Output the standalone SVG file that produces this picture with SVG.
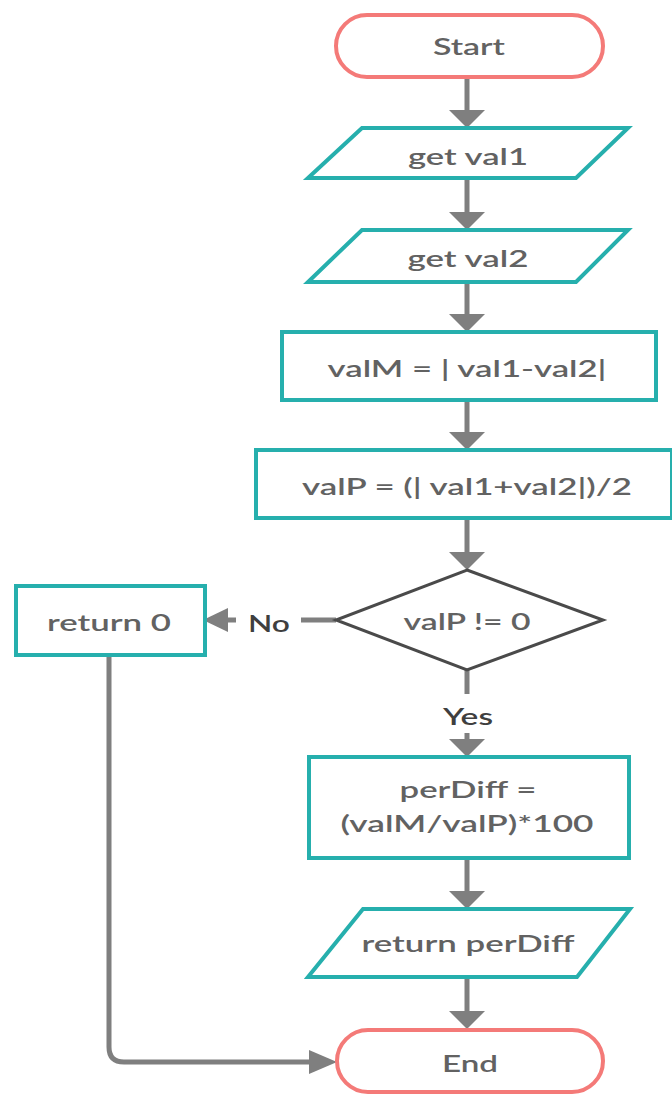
<svg xmlns="http://www.w3.org/2000/svg" width="672" height="1094" viewBox="0 0 672 1094">
  <style>
    .term { fill: #ffffff; stroke: #f47a78; stroke-width: 4; }
    .proc { fill: #ffffff; stroke: #26afad; stroke-width: 4; }
    .dec { fill: #ffffff; stroke: #4a4a4a; stroke-width: 3; }
    .wire { fill: none; stroke: #7f7f7f; stroke-width: 5; }
    .head { fill: #7f7f7f; stroke: none; }
    text { font-family: Lato, "Open Sans", "Liberation Sans", sans-serif; font-size: 23px; font-weight: 600; fill: #626262; text-anchor: middle; }
    text.lbl { fill: #3f3f3f; }
  </style>

  <rect width="672" height="1094" fill="#ffffff"/>

  <!-- connectors -->
  <g id="connectors">
    <line class="wire" x1="467" y1="77" x2="467" y2="112"/>
    <polygon class="head" points="449,110 485,110 467,128"/>

    <line class="wire" x1="467" y1="178" x2="467" y2="214"/>
    <polygon class="head" points="449,212 485,212 467,230"/>

    <line class="wire" x1="467" y1="282" x2="467" y2="316"/>
    <polygon class="head" points="449,314 485,314 467,332"/>

    <line class="wire" x1="467" y1="400" x2="467" y2="434"/>
    <polygon class="head" points="449,432 485,432 467,450"/>

    <line class="wire" x1="467" y1="518" x2="467" y2="554"/>
    <polygon class="head" points="449,552 485,552 467,570"/>

    <!-- No branch -->
    <line class="wire" x1="336" y1="620" x2="301" y2="620"/>
    <line class="wire" x1="236" y1="620" x2="224" y2="620"/>
    <polygon class="head" points="228,608 228,632 203,620"/>
    <text class="lbl" x="269" y="632" textLength="42" lengthAdjust="spacingAndGlyphs">No</text>

    <!-- Yes branch -->
    <line class="wire" x1="467" y1="670" x2="467" y2="694"/>
    <line class="wire" x1="467" y1="733" x2="467" y2="742"/>
    <polygon class="head" points="449,739 485,739 467,757"/>
    <text class="lbl" x="468" y="725" textLength="50" lengthAdjust="spacingAndGlyphs">Yes</text>

    <line class="wire" x1="467" y1="858" x2="467" y2="893"/>
    <polygon class="head" points="449,891 485,891 467,909"/>

    <line class="wire" x1="467" y1="977" x2="467" y2="1013"/>
    <polygon class="head" points="449,1011 485,1011 467,1029"/>

    <!-- return 0 down to End -->
    <path class="wire" d="M109,655 V1047 Q109,1062 124,1062 H312"/>
    <polygon class="head" points="309,1050 309,1074 337,1062"/>
  </g>

  <g id="start">
    <rect class="term" x="336" y="15" width="267" height="62" rx="31" ry="31"/>
    <text x="469" y="55" textLength="72" lengthAdjust="spacingAndGlyphs">Start</text>
  </g>

  <g id="get-val1">
    <polygon class="proc" points="362,128 628,128 576,178 308,178"/>
    <text x="468" y="165" textLength="120" lengthAdjust="spacingAndGlyphs">get val1</text>
  </g>

  <g id="get-val2">
    <polygon class="proc" points="362,230 628,230 576,282 308,282"/>
    <text x="468" y="267" textLength="121" lengthAdjust="spacingAndGlyphs">get val2</text>
  </g>

  <g id="val-m">
    <rect class="proc" x="282" y="332" width="374" height="68"/>
    <text x="467" y="377" textLength="279" lengthAdjust="spacingAndGlyphs">valM = | val1-val2|</text>
  </g>

  <g id="val-p">
    <rect class="proc" x="256" y="450" width="416" height="68"/>
    <text x="467" y="495" textLength="330" lengthAdjust="spacingAndGlyphs">valP = (| val1+val2|)/2</text>
  </g>

  <g id="check">
    <polygon class="dec" points="467,570 603,620 467,670 336,620"/>
    <text x="467" y="630" textLength="127" lengthAdjust="spacingAndGlyphs">valP != 0</text>
  </g>

  <g id="return-zero">
    <rect class="proc" x="16" y="586" width="189" height="69"/>
    <text x="109" y="631" textLength="124" lengthAdjust="spacingAndGlyphs">return 0</text>
  </g>

  <g id="per-diff">
    <rect class="proc" x="309" y="757" width="320" height="101"/>
    <text x="468" y="798" textLength="137" lengthAdjust="spacingAndGlyphs">perDiff =</text>
    <text x="467" y="832" textLength="253" lengthAdjust="spacingAndGlyphs">(valM/valP)*100</text>
  </g>

  <g id="return-per-diff">
    <polygon class="proc" points="363,909 630,909 577,977 308,977"/>
    <text x="468" y="952" textLength="213" lengthAdjust="spacingAndGlyphs">return perDiff</text>
  </g>

  <g id="end">
    <rect class="term" x="337" y="1030" width="266" height="62" rx="31" ry="31"/>
    <text x="470" y="1072" textLength="56" lengthAdjust="spacingAndGlyphs">End</text>
  </g>
</svg>
